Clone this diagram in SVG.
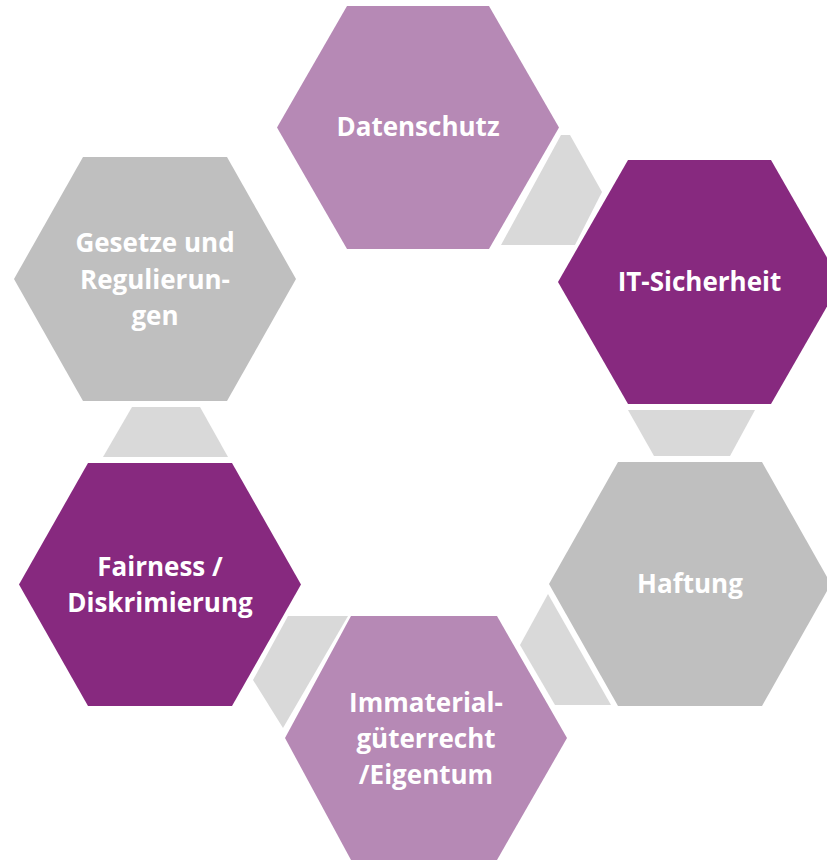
<svg xmlns="http://www.w3.org/2000/svg" width="827" height="860" viewBox="0 0 827 860">
  <style>
    .light { fill: #B689B5; }
    .dark { fill: #87297F; }
    .grey { fill: #BFBFBF; }
    .link { fill: #D9D9D9; }
    .label { font-family: "Open Sans", "Liberation Sans", sans-serif; font-weight: bold; font-size: 26px; fill: #FFFFFF; text-anchor: middle; }
  </style>
  <rect width="827" height="860" fill="#FFFFFF"/>

  <!-- connectors between neighbouring hexagons -->
  <g id="connectors">
    <polygon class="link" points="561,135 570,135 602,192 575,245 501,245"/>
    <polygon class="link" points="628,410 755,410 730,456 654,456"/>
    <polygon class="link" points="548,594 611,705 555,705 520,645"/>
    <polygon class="link" points="288,616 348,616 283,728 253,680"/>
    <polygon class="link" points="132,407 200,407 228,457 103,457"/>
  </g>

  <g id="datenschutz">
    <polygon class="light" points="277,127.5 347,6 489,6 559,127.5 489,249 347,249"/>
    <text class="label" x="418" y="136">Datenschutz</text>
  </g>

  <g id="it-sicherheit">
    <polygon class="dark" points="558,282 628,160 771,160 841,282 771,404 628,404"/>
    <text class="label" x="699.5" y="291">IT-Sicherheit</text>
  </g>

  <g id="haftung">
    <polygon class="grey" points="549,584 618,462 762,462 831,584 762,706 618,706"/>
    <text class="label" x="690" y="593">Haftung</text>
  </g>

  <g id="immaterialgueterrecht">
    <polygon class="light" points="285,738 351,616 497,616 567,738 497,860 351,860"/>
    <text class="label" x="426" y="712">Immaterial-</text>
    <text class="label" x="426" y="748">güterrecht</text>
    <text class="label" x="426" y="784">/Eigentum</text>
  </g>

  <g id="fairness">
    <polygon class="dark" points="19,584.5 88,463 232,463 301,584.5 232,706 88,706"/>
    <text class="label" x="160" y="576">Fairness /</text>
    <text class="label" x="160" y="612">Diskrimierung</text>
  </g>

  <g id="gesetze">
    <polygon class="grey" points="14,279 83,157 227,157 296,279 227,401 83,401"/>
    <text class="label" x="155" y="252">Gesetze und</text>
    <text class="label" x="155" y="288.5">Regulierun-</text>
    <text class="label" x="155" y="325">gen</text>
  </g>
</svg>
